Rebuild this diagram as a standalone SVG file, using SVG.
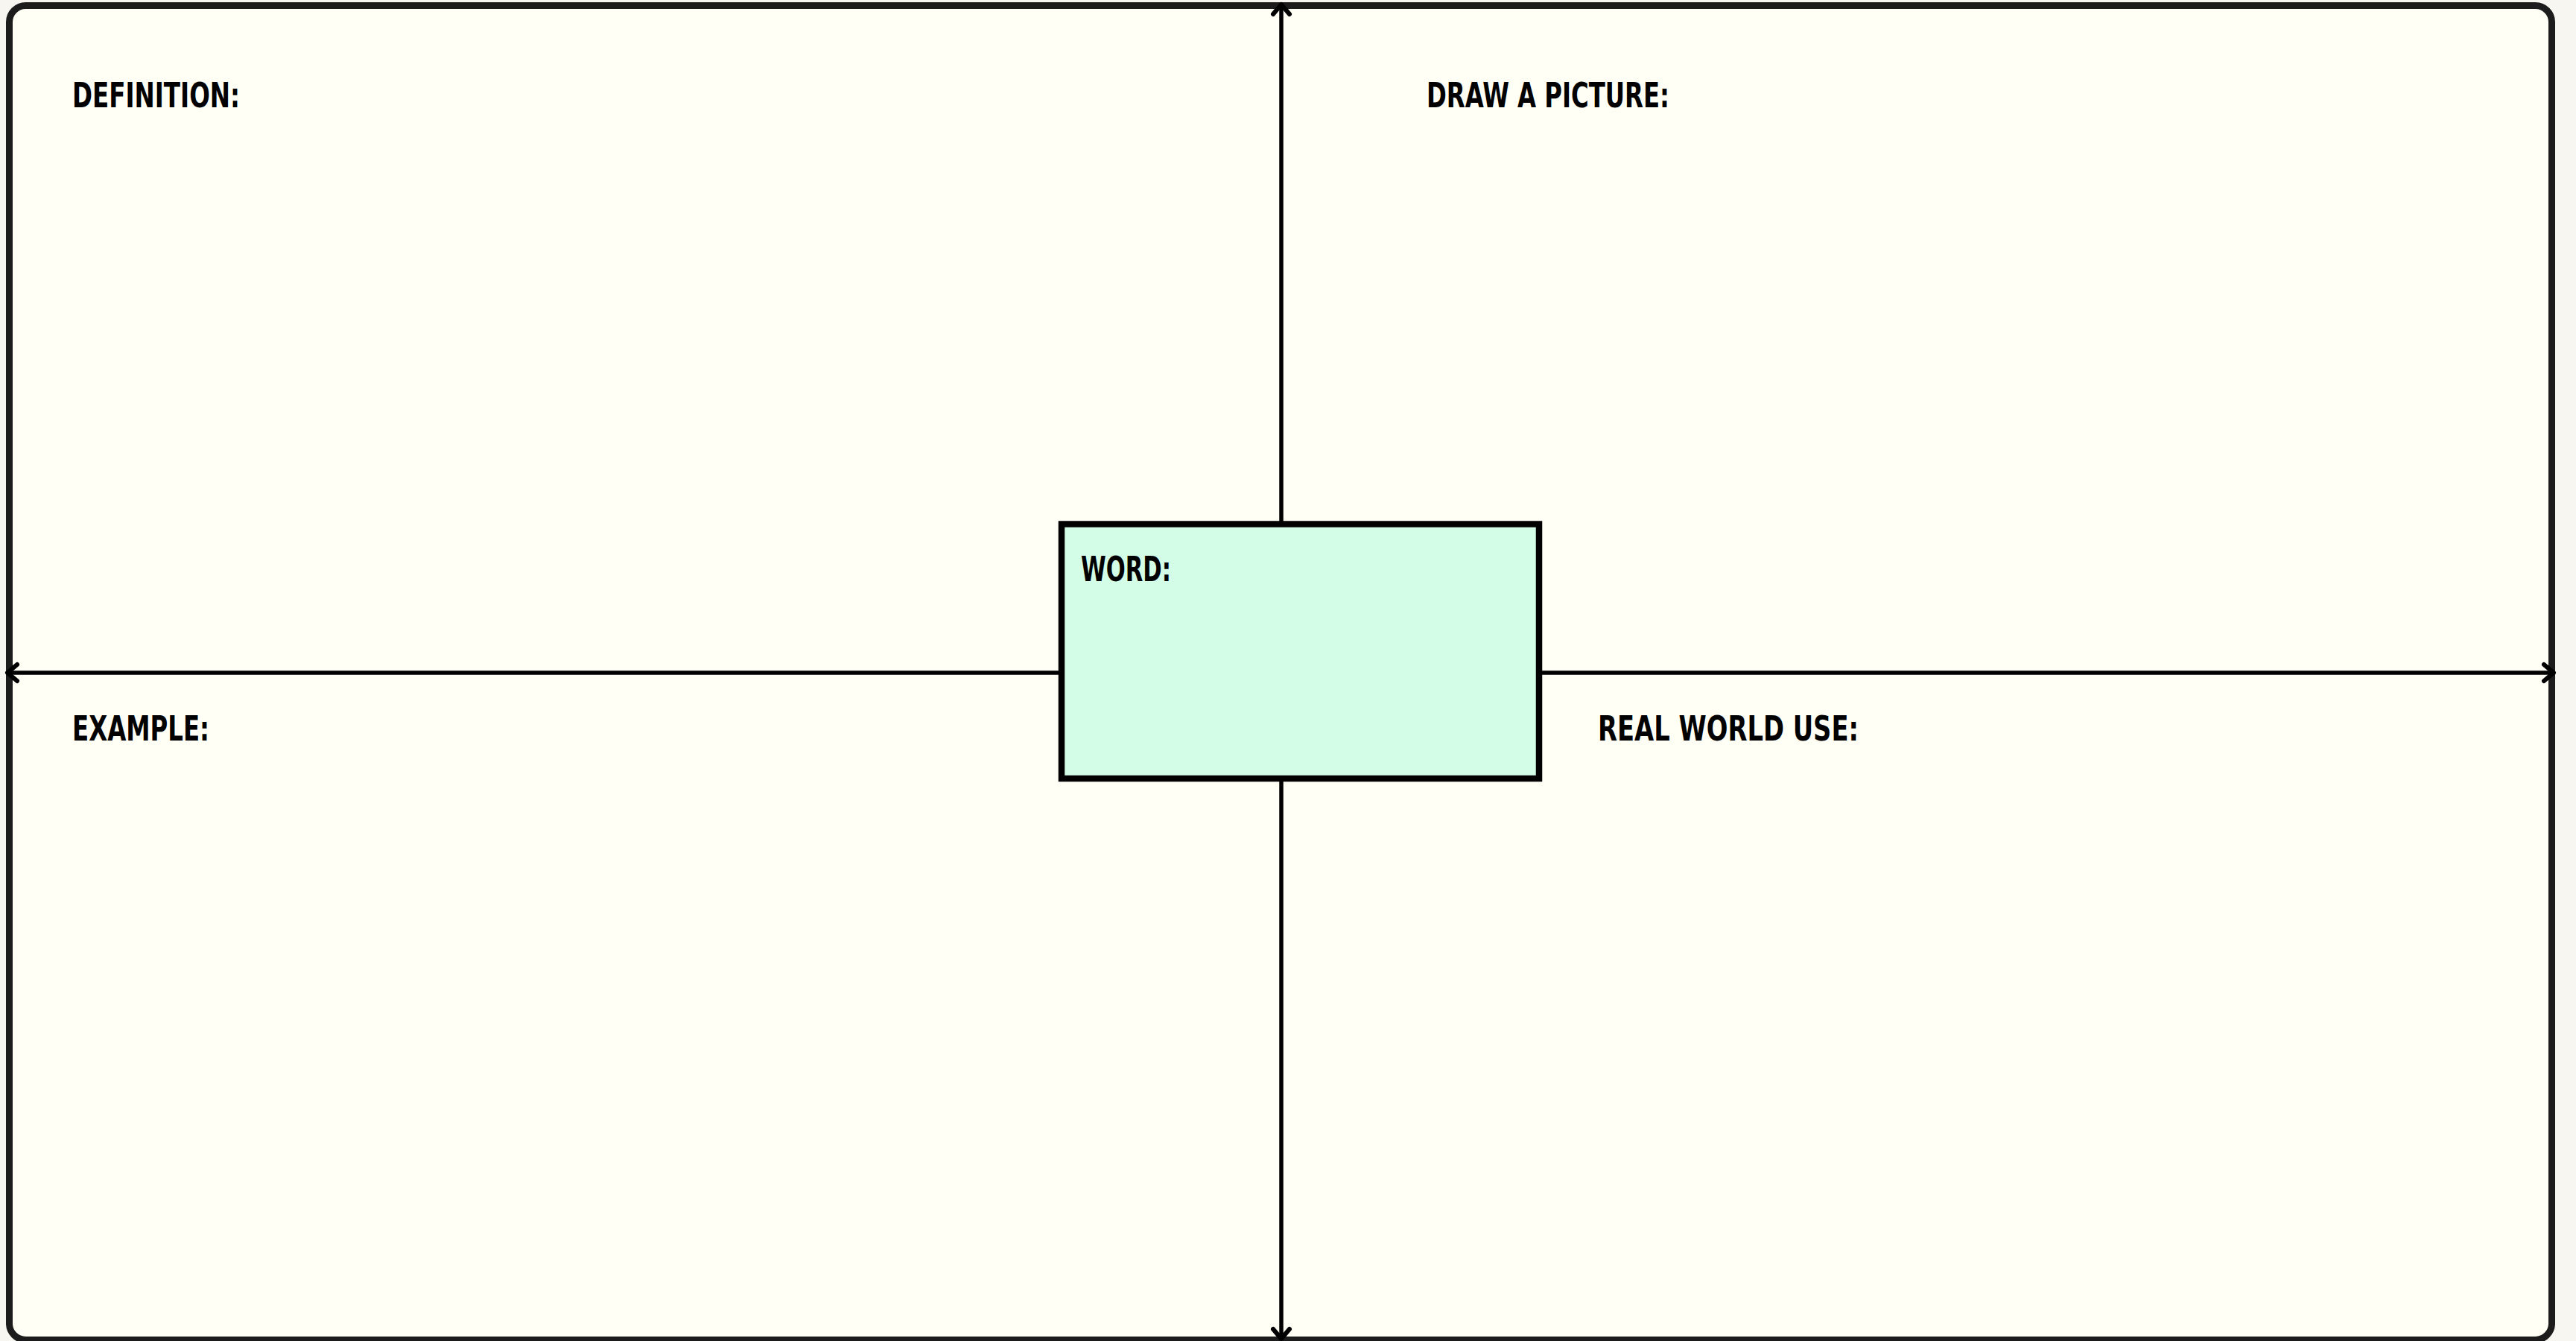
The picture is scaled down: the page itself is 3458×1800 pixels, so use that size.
<svg xmlns="http://www.w3.org/2000/svg" width="3458" height="1800" viewBox="0 0 3458 1800">
<style>
.lbl{font-family:"DejaVu Sans Condensed","Liberation Sans Narrow","Liberation Sans",sans-serif;font-weight:bold;font-size:46px;fill:#000}
.conn{stroke:#000;stroke-width:5.5;fill:none;marker-end:url(#arr)}
</style>
<defs>
<marker id="arr" markerUnits="userSpaceOnUse" markerWidth="40" markerHeight="40" viewBox="-20 -20 40 40" refX="0" refY="0" orient="auto">
<path d="M-13,-11 L0,0 L-13,11" fill="none" stroke="#000" stroke-width="6" stroke-linecap="round" stroke-linejoin="round"/>
</marker>
</defs>
<rect x="0" y="0" width="3458" height="1800" fill="#f8f6f1"/>
<g id="frame">
<rect x="12.5" y="7.5" width="3413" height="1791" rx="22" fill="#fffff6" stroke="#1c1c1c" stroke-width="9"/>
</g>
<g id="connectors">
<line class="conn" x1="1720" y1="703" x2="1720" y2="6"/>
<line class="conn" x1="1720" y1="1045" x2="1720" y2="1797"/>
<line class="conn" x1="1425" y1="903" x2="10" y2="903"/>
<line class="conn" x1="2066" y1="903" x2="3428" y2="903"/>
</g>
<g id="definition"><text class="lbl" x="97" y="144" textLength="225" lengthAdjust="spacingAndGlyphs">DEFINITION:</text></g>
<g id="draw-a-picture"><text class="lbl" x="1915" y="144" textLength="326" lengthAdjust="spacingAndGlyphs">DRAW A PICTURE:</text></g>
<g id="example"><text class="lbl" x="97" y="994" textLength="184" lengthAdjust="spacingAndGlyphs">EXAMPLE:</text></g>
<g id="real-world-use"><text class="lbl" x="2145" y="994" textLength="350" lengthAdjust="spacingAndGlyphs">REAL WORLD USE:</text></g>
<g id="word">
<rect x="1425" y="703.5" width="641" height="341.5" fill="#d3fde7" stroke="#000" stroke-width="8.5"/>
<text class="lbl" x="1451" y="780" textLength="121" lengthAdjust="spacingAndGlyphs">WORD:</text>
</g>
</svg>
